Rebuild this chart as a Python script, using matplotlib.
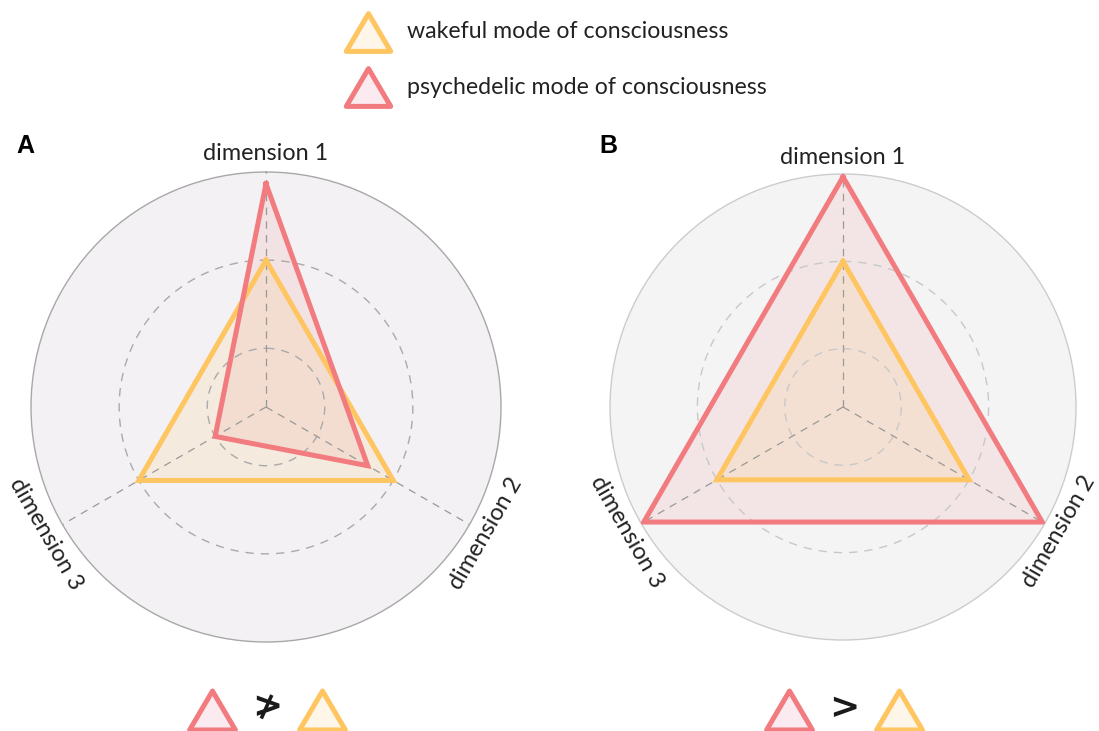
import numpy as np
import matplotlib
matplotlib.use('Agg')
from matplotlib import pyplot as plt
from matplotlib.path import Path
from matplotlib.markers import MarkerStyle

plt.rcParams['font.family'] = ['Lato', 'DejaVu Sans']

dims = ['dimension 1', 'dimension 2', 'dimension 3']
wakeful_A = [2.5, 2.5, 2.5]
psyche_A = [3.8, 2.0, 1.0]
wakeful_B = [2.5, 2.5, 2.5]
psyche_B = [3.95, 3.95, 3.95]
rmax = 4.0
rings = [1.0, 2.5]

legend_labels = ['wakeful mode of consciousness', 'psychedelic mode of consciousness']
compare_signs = ['\u226f', '>']

RED = '#F27B7F'
YEL = '#FEC560'
RED_FILL = '#FBEBF0'
YEL_FILL = '#FEF6E8'

W, H = 1099, 731
fig = plt.figure(figsize=(W / 100, H / 100), dpi=100)

theta = np.array([0, 2 * np.pi / 3, 4 * np.pi / 3])
rots = [0, 60, -60]


def radar(cx, cy, rad, wake, psy, bg, edge, gridcol, lab_r):
    ax = fig.add_axes([(cx - rad) / W, (H - cy - rad) / H, 2 * rad / W, 2 * rad / H],
                      projection='polar')
    ax.set_theta_zero_location('N')
    ax.set_theta_direction(-1)
    ax.set_ylim(0, rmax)
    ax.set_xticks([])
    ax.set_yticks([])
    ax.grid(False)
    ax.set_facecolor(bg)
    ax.spines['polar'].set_color(edge)
    ax.spines['polar'].set_linewidth(1.0)

    t = np.append(theta, theta[0])
    w = np.append(wake, wake[0])
    p = np.append(psy, psy[0])
    ax.fill(t, p, color=RED, alpha=0.12, lw=0, zorder=1)
    ax.fill(t, w, color=YEL, alpha=0.14, lw=0, zorder=1)

    # grid
    tt = np.linspace(0, 2 * np.pi, 400)
    for r in rings:
        ax.plot(tt, np.full_like(tt, r), color=gridcol, lw=1.0,
                dashes=(6, 5), zorder=2)
    for th in theta:
        ax.plot([th, th], [0, rmax], color='#999999', lw=0.9,
                dashes=(6, 5), zorder=2)

    ax.plot(t, w, color=YEL, lw=3.6, solid_joinstyle='miter', zorder=3)
    ax.plot(t, p, color=RED, lw=3.6, solid_joinstyle='miter', zorder=4)

    for th, lab, rot in zip(theta, dims, rots):
        ax.text(th, lab_r, lab, rotation=rot, ha='center', va='center',
                rotation_mode='anchor', fontsize=16.8, color='#222222',
                clip_on=False)
    return ax


radar(266, 407, 235, wakeful_A, psyche_A, '#F3F1F3', '#A8A8A8', '#AAAAAA', 4.32)
radar(843, 407, 233, wakeful_B, psyche_B, '#F4F4F4', '#CCCCCC', '#C8C8C8', 4.28)

fig.text(25 / W, 1 - 146 / H, 'A', fontsize=18, fontweight='bold',
         family='Liberation Sans', ha='center', va='center')
fig.text(608 / W, 1 - 146 / H, 'B', fontsize=18, fontweight='bold',
         family='Liberation Sans', ha='center', va='center')

# overlay for legend and comparison glyphs (pixel coords, y from top)
ov = fig.add_axes([0, 0, 1, 1])
ov.set_xlim(0, W)
ov.set_ylim(0, H)
ov.axis('off')

tri = MarkerStyle(Path([(0, 0.85), (-1, -0.85), (1, -0.85), (0, 0.85)],
                       [Path.MOVETO, Path.LINETO, Path.LINETO, Path.CLOSEPOLY]),
                  joinstyle='round')


def glyph(x, y, fc, ec, ms=33):
    ov.plot([x], [H - y], marker=tri, ms=ms, mfc=fc, mec=ec, mew=3.6, ls='none')


glyph(368, 32, YEL_FILL, YEL, 32)
glyph(368, 87, RED_FILL, RED, 32)
ov.text(407, H - 32, legend_labels[0], fontsize=16.7, va='center', ha='left', color='#222222')
ov.text(407, H - 87, legend_labels[1], fontsize=16.7, va='center', ha='left', color='#222222')

for cx, sign in zip([266, 843], compare_signs):
    glyph(cx - 54, 710, RED_FILL, RED)
    glyph(cx + 56, 710, YEL_FILL, YEL)
    ov.text(cx + 1, H - 708, sign, fontsize=26, fontweight='bold', family='DejaVu Sans',
            ha='center', va='center', color='#1a1a1a')

fig.savefig('out.png', dpi=100)
